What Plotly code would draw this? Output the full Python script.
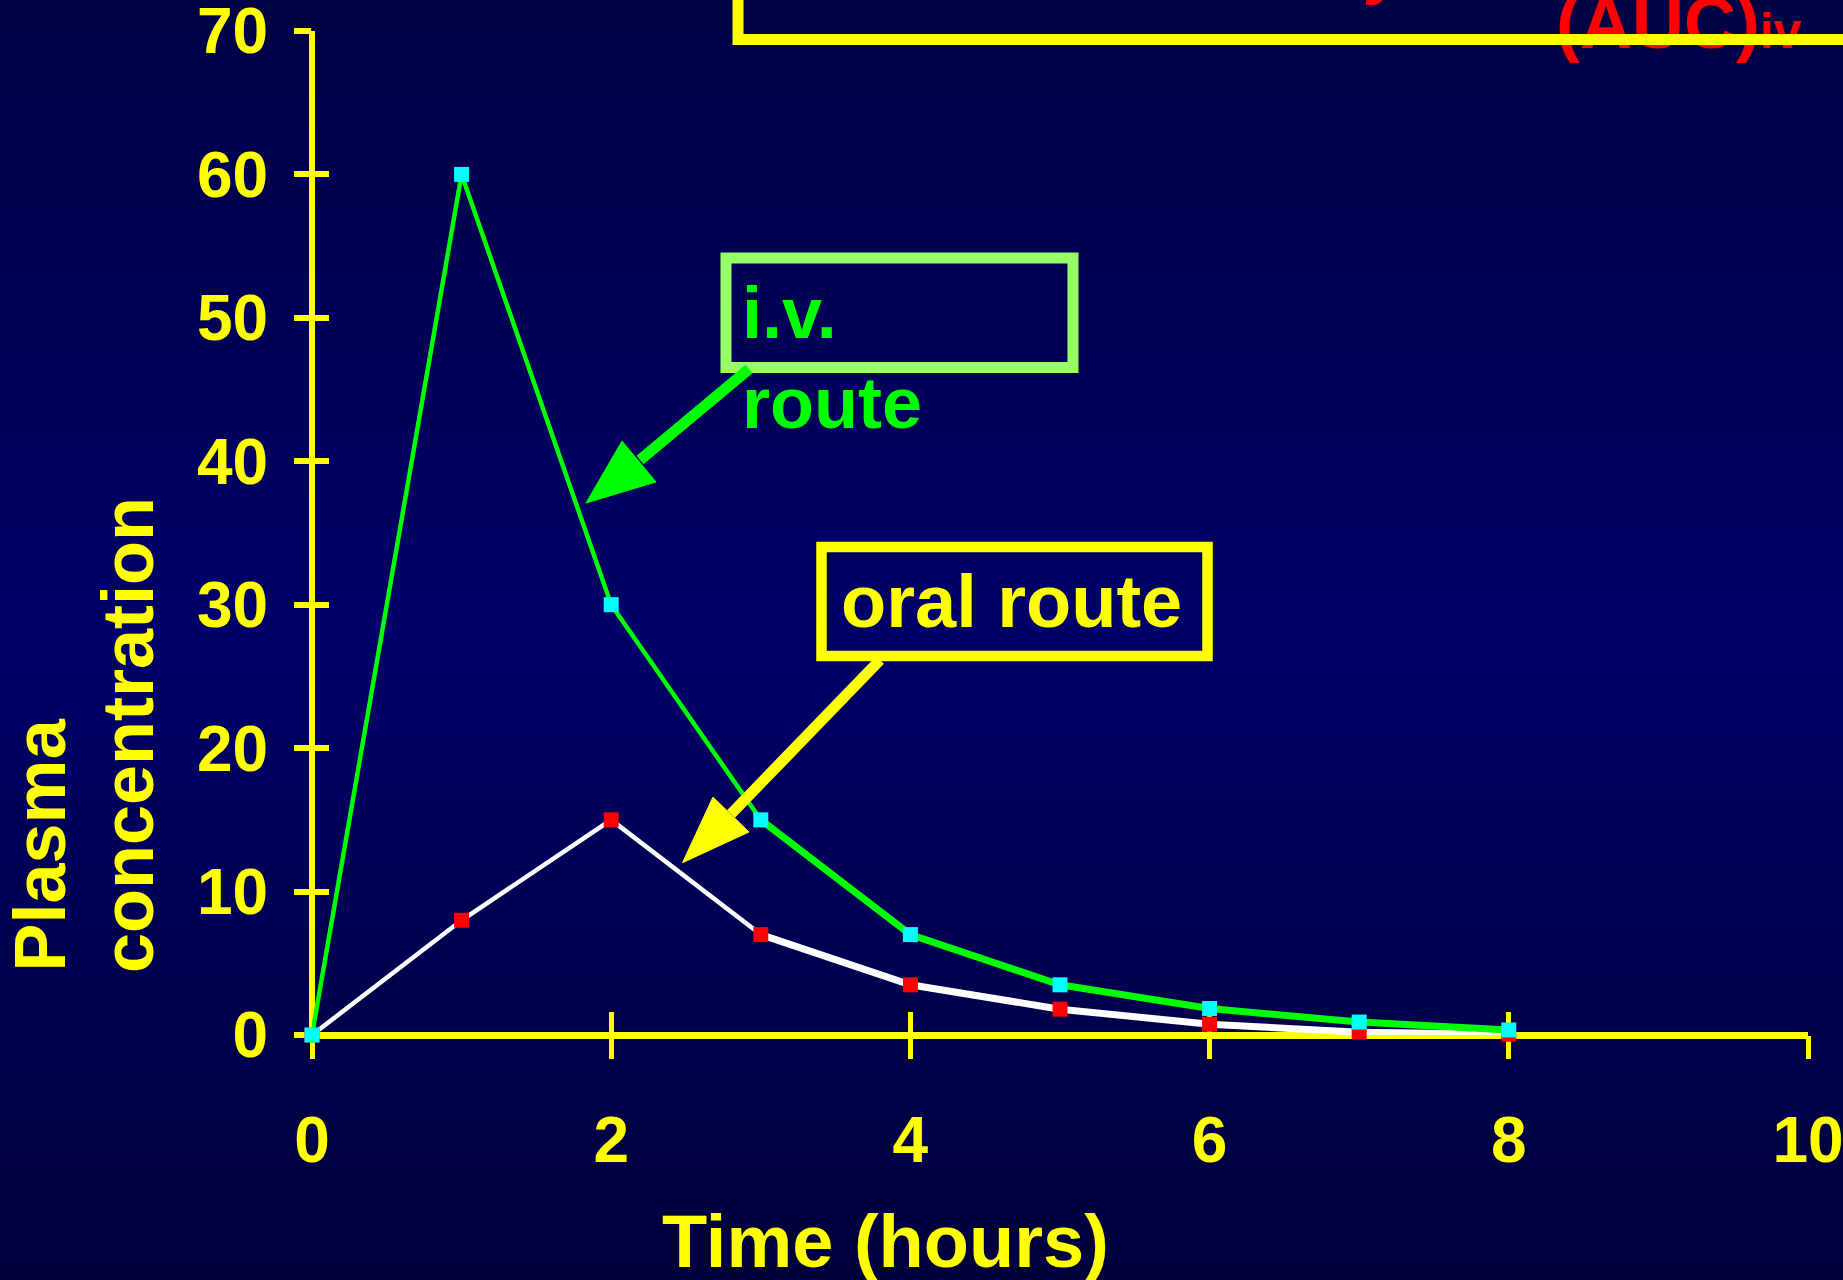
import plotly.graph_objects as go

# ---------------- data ----------------
time_h = [0, 1, 2, 3, 4, 5, 6, 7, 8]
iv_conc = [0, 60, 30, 15, 7, 3.5, 1.85, 0.9, 0.35]
oral_conc = [0, 8, 15, 7, 3.5, 1.8, 0.75, 0.2, 0.05]
x_ticks = [0, 2, 4, 6, 8, 10]
y_ticks = [0, 10, 20, 30, 40, 50, 60, 70]

# ---------------- geometry ----------------
W, H = 1843, 1280
L, R, T, B = 312, 1808, 31, 1035


def px(xp):
    return (xp - L) / (R - L)


def py(yp):
    return (B - yp) / (B - T)


YELLOW = "#FFFF00"
GREEN = "#00FF00"
CYAN = "#00FFFF"
RED = "#FF0000"
WHITE = "#FFFFFF"
BOLD = "Liberation Sans, Arial, sans-serif"

fig = go.Figure()

# oral route
fig.add_trace(go.Scatter(x=time_h, y=oral_conc, mode="lines",
                         line=dict(color=WHITE, width=4.5), cliponaxis=False,
                         hoverinfo="skip", showlegend=False))
fig.add_trace(go.Scatter(x=time_h[3:], y=oral_conc[3:], mode="lines",
                         line=dict(color=WHITE, width=7), cliponaxis=False,
                         hoverinfo="skip", showlegend=False))
fig.add_trace(go.Scatter(x=time_h, y=oral_conc, mode="markers", name="oral",
                         marker=dict(symbol="square", size=15, color=RED, line=dict(width=0)),
                         cliponaxis=False, showlegend=False))
# i.v. route
fig.add_trace(go.Scatter(x=time_h, y=iv_conc, mode="lines",
                         line=dict(color=GREEN, width=4.5), cliponaxis=False,
                         hoverinfo="skip", showlegend=False))
fig.add_trace(go.Scatter(x=time_h[3:], y=iv_conc[3:], mode="lines",
                         line=dict(color=GREEN, width=7), cliponaxis=False,
                         hoverinfo="skip", showlegend=False))
fig.add_trace(go.Scatter(x=time_h, y=iv_conc, mode="markers", name="i.v.",
                         marker=dict(symbol="square", size=15, color=CYAN, line=dict(width=0)),
                         cliponaxis=False, showlegend=False))
# invisible trace on the overlay axes (for the inner half of the ticks)
fig.add_trace(go.Scatter(x=time_h, y=iv_conc, mode="none", xaxis="x2", yaxis="y2",
                         hoverinfo="skip", showlegend=False))

# ---------------- background gradient ----------------
stops = [(0, 68), (640, 104), (1280, 58)]


def blue_at(y):
    for (y0, c0), (y1, c1) in zip(stops[:-1], stops[1:]):
        if y0 <= y <= y1:
            return c0 + (c1 - c0) * (y - y0) / (y1 - y0)
    return stops[-1][1]


shapes = []
band = 16
for yb in range(0, H, band):
    b = round(blue_at(yb + band / 2))
    shapes.append(dict(type="rect", xref="paper", yref="paper",
                       x0=px(-5), x1=px(W + 5), y0=py(yb + band + 0.5), y1=py(yb - (5 if yb == 0 else 0)),
                       fillcolor=f"rgb(0,0,{b})", line=dict(width=0), layer="below"))

# boxes
shapes.append(dict(type="rect", xref="paper", yref="paper",
                   x0=px(726), x1=px(1073), y0=py(367.5), y1=py(258),
                   line=dict(color="#99FF66", width=11), layer="above"))
shapes.append(dict(type="rect", xref="paper", yref="paper",
                   x0=px(821.5), x1=px(1207.5), y0=py(656), y1=py(547),
                   line=dict(color=YELLOW, width=10.5), layer="above"))
shapes.append(dict(type="rect", xref="paper", yref="paper",
                   x0=px(738), x1=px(1950), y0=py(39.5), y1=py(-120),
                   line=dict(color=YELLOW, width=11), layer="above"))


def arrow(start, base_mid, tip, b1, b2, color, width):
    out = [dict(type="line", xref="paper", yref="paper",
                x0=px(start[0]), y0=py(start[1]), x1=px(base_mid[0]), y1=py(base_mid[1]),
                line=dict(color=color, width=width), layer="above")]
    path = "M {} {} L {} {} L {} {} Z".format(px(tip[0]), py(tip[1]), px(b1[0]), py(b1[1]),
                                              px(b2[0]), py(b2[1]))
    out.append(dict(type="path", xref="paper", yref="paper", path=path,
                    fillcolor=color, line=dict(color=color, width=1), layer="above"))
    return out


shapes += arrow((749, 369), (640, 460), (586, 503), (622, 441), (656, 482), GREEN, 11)
shapes += arrow((880, 660), (731, 814), (682.5, 862.7), (713, 797), (749, 832), YELLOW, 11)

# ---------------- annotations ----------------
ann = []


def text(t, x, y, xa, ya, color, size, angle=0, family=BOLD):
    ann.append(dict(text=t, x=px(x), y=py(y), xref="paper", yref="paper",
                    xanchor=xa, yanchor=ya, showarrow=False, textangle=angle,
                    font=dict(family=family, size=size, color=color, weight="bold"),
                    borderpad=0))


text("Plasma", 39, 973, "center", "bottom", YELLOW, 72, angle=-90)
text("concentration", 128, 974, "center", "bottom", YELLOW, 72, angle=-90)
text("Time (hours)", 885, 1199, "center", "top", YELLOW, 74)
text("i.v.", 741, 272, "left", "top", GREEN, 72)
text("route", 741, 362, "left", "top", GREEN, 72)
text("oral route", 1011, 559, "center", "top", YELLOW, 74)
text("Bioavailability", 1403, 6, "right", "bottom", RED, 72)
text("(AUC)<span style='font-size:50px'>iv</span>", 1555, 64, "left", "bottom", RED, 72)
# yellow box edge passing over the red text
ann.append(dict(text=" ", x=px(1540), y=py(39.5), xref="paper", yref="paper",
                xanchor="left", yanchor="middle", showarrow=False, width=320, height=11,
                bgcolor=YELLOW, borderpad=0, borderwidth=0, font=dict(size=1)))

tickfont = dict(family=BOLD, size=64, color=YELLOW, weight="bold")

fig.update_layout(
    width=W, height=H,
    margin=dict(l=L, r=W - R, t=T, b=H - B, pad=0, autoexpand=False),
    paper_bgcolor="#000044", plot_bgcolor="rgba(0,0,0,0)",
    shapes=shapes, annotations=ann, showlegend=False,
    xaxis=dict(range=[0, 10], tickvals=x_ticks, ticktext=[str(v) for v in x_ticks],
               ticks="outside", ticklen=23, tickwidth=5, tickcolor=YELLOW,
               showline=False, showgrid=False, zeroline=True, zerolinecolor=YELLOW,
               zerolinewidth=6, tickfont=tickfont, ticklabelstandoff=26,
               ticklabeloverflow="allow", automargin=False, layer="below traces",
               fixedrange=True),
    yaxis=dict(range=[0, 70], tickvals=y_ticks, ticktext=[str(v) for v in y_ticks],
               ticks="outside", ticklen=17, tickwidth=6, tickcolor=YELLOW,
               showline=False, showgrid=False, zeroline=True, zerolinecolor=YELLOW,
               zerolinewidth=7, tickfont=tickfont, ticklabelstandoff=13,
               ticklabeloverflow="allow", automargin=False, layer="below traces",
               fixedrange=True),
    xaxis2=dict(range=[0, 10], overlaying="x", anchor="y", side="bottom", tickvals=x_ticks,
                ticks="inside", ticklen=23, tickwidth=5, tickcolor=YELLOW,
                showticklabels=False, showline=False, showgrid=False, zeroline=False,
                automargin=False, layer="below traces", fixedrange=True),
    yaxis2=dict(range=[0, 70], overlaying="y", anchor="x", side="left", tickvals=y_ticks,
                ticks="inside", ticklen=17, tickwidth=6, tickcolor=YELLOW,
                showticklabels=False, showline=False, showgrid=False, zeroline=False,
                automargin=False, layer="below traces", fixedrange=True),
)

fig.write_html("out.html", config={"displayModeBar": False},
               post_script="document.body.style.margin='0';document.body.style.overflow='hidden';")
